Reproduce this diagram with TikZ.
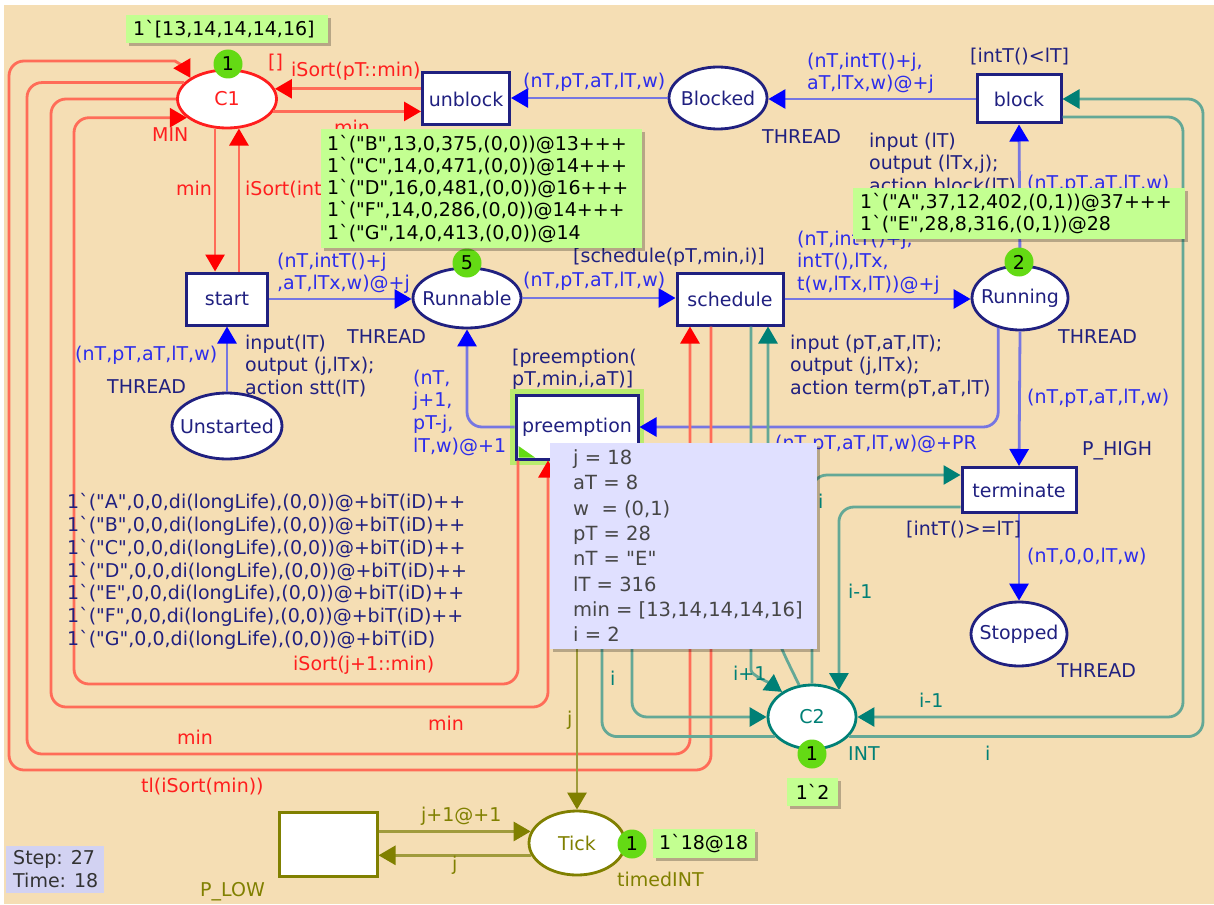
\documentclass[tikz,border=0pt]{standalone}
\usepackage{fontspec}
\newfontfamily\dvs{DejaVu Sans}
\usetikzlibrary{arrows.meta,shapes.geometric,shadows}
\definecolor{bgc}{RGB}{245,222,180}
\definecolor{nv}{RGB}{32,32,128}
\definecolor{bl}{RGB}{118,118,226}
\definecolor{bh}{RGB}{0,0,255}
\definecolor{bt}{RGB}{45,45,235}
\definecolor{rl}{RGB}{255,108,88}
\definecolor{rh}{RGB}{255,0,0}
\definecolor{rt}{RGB}{255,30,30}
\definecolor{tline}{RGB}{100,168,150}
\definecolor{th}{RGB}{0,128,118}
\definecolor{ol}{RGB}{160,155,60}
\definecolor{oh}{RGB}{128,128,0}
\definecolor{tokg}{RGB}{100,218,20}
\definecolor{mkg}{RGB}{195,255,145}
\definecolor{glow}{RGB}{185,235,110}
\definecolor{pop}{RGB}{224,224,255}
\definecolor{popt}{RGB}{70,70,70}
\definecolor{stepc}{RGB}{210,210,242}
\newcommand\pfont{\dvs\fontsize{19}{22.7}\selectfont}
\newcommand\mfont{\dvs\fontsize{19}{22.3}\selectfont}
\newcommand\qfont{\dvs\fontsize{19.5}{25.3}\selectfont}
\begin{document}
\begin{tikzpicture}[x=1pt,y=-1pt,
  every node/.style={inner sep=0pt},
  place/.style={ellipse, draw=nv, fill=white, line width=2.8pt, font=\pfont, text=nv},
  trans/.style={rectangle, draw=nv, fill=white, line width=3pt, font=\pfont, text=nv},
  tok/.style={circle, fill=tokg, minimum size=29pt, font=\pfont},
  mk/.style={fill=mkg, anchor=north west, align=left, font=\mfont,
     drop shadow={shadow xshift=2.5pt, shadow yshift=-2.5pt, fill=black, opacity=0.25}},
  lab/.style={font=\pfont, anchor=west},
  mlab/.style={font=\pfont, anchor=north west, align=left},
  hd/.style={-{Triangle[length=17pt,width=19pt,color=#1]}},
  barc/.style={draw=bl, line width=2.8pt, rounded corners=15pt, hd=bh},
  rarc/.style={draw=rl, line width=2.8pt, rounded corners=15pt, hd=rh},
  tarc/.style={draw=tline, line width=2.8pt, rounded corners=15pt, hd=th},
  oarc/.style={draw=ol, line width=2.8pt, rounded corners=15pt, hd=oh}]
\useasboundingbox (0,0) rectangle (1214,904);
\fill[white] (0,0) rectangle (1214,904);
\fill[bgc] (4,5) rectangle (1214,904);

% places
\node[place, draw=rt, text=rt, minimum width=99pt, minimum height=58pt] (C1) at (227,99) {\makebox[0pt]{C1}};
\node[place, minimum width=98pt, minimum height=62pt] (blocked) at (718,98) {\makebox[0pt]{Blocked}};
\node[place, minimum width=108pt, minimum height=60pt] (runnable) at (467,298) {\makebox[0pt]{Runnable}};
\node[place, minimum width=96pt, minimum height=64pt] (running) at (1020,298) {\makebox[0pt]{Running}};
\node[place, minimum width=110pt, minimum height=66pt] (unstarted) at (227,426) {\makebox[0pt]{Unstarted}};
\node[place, minimum width=96pt, minimum height=64pt] (stopped) at (1019,634) {\makebox[0pt]{Stopped}};
\node[place, draw=th, text=th, minimum width=88pt, minimum height=64pt] (C2) at (812,717) {\makebox[0pt]{C2}};
\node[place, draw=oh, text=oh, minimum width=96pt, minimum height=64pt] (tick) at (577,843) {\makebox[0pt]{Tick}};

% transitions
\node[trans, minimum width=87pt, minimum height=52pt] (unblock) at (466,99) {unblock};
\node[trans, minimum width=84pt, minimum height=48pt] (block) at (1019,99) {block};
\node[trans, minimum width=81pt, minimum height=52pt] (start) at (227,299) {start};
\node[trans, minimum width=106pt, minimum height=52pt] (sched) at (730,299) {schedule};
\node[fill=glow, minimum width=134pt, minimum height=76pt] (pglow) at (577,427) {};
\node[trans, minimum width=122pt, minimum height=64pt] (preempt) at (577,427) {preemption};
\fill[tokg] (518.5,446) -- (518.5,457.5) -- (535,457.5) -- cycle;
\node[trans, minimum width=114pt, minimum height=45pt] (term) at (1019,490) {terminate};
\node[trans, draw=oh, minimum width=98pt, minimum height=64pt] (plow) at (328,844) {};

% blue arcs
\draw[barc] (blocked.west) -- (unblock.east |- blocked.west);
\draw[barc] (block.west) -- (blocked.east |- block.west);
\draw[barc] (running.north) -- (block.south);
\draw[barc] (start.east) -- (runnable.west |- start.east);
\draw[barc] (unstarted.north) -- (start.south);
\draw[barc] (runnable.east) -- (sched.west |- runnable.east);
\draw[barc] (sched.east) -- (running.west |- sched.east);
\draw[barc] (running.234) |- (preempt.east);
\draw[barc] (preempt.west) -| (runnable.south);
\draw[barc] (running.south) -- (term.north);
\draw[barc] (term.south) -- (stopped.north);

% red arcs
\draw[rarc] (unblock.west |- C1.12) -- (C1.12);
\draw[rarc] (C1.-15) -- (unblock.west |- C1.-15);
\draw[rarc] (C1.248) -- (start.north -| C1.248);
\draw[rarc] (start.north -| C1.292) -- (C1.292);
\draw[rarc] ([xshift=-19pt]sched.south) -- (711,770) -- (9,770) -- (9,61) -- (160,61) .. controls (175,61) and (184,67) .. (C1.150);
\draw[rarc] (C1.159) -| (27,754) -- (690,754) -- ([xshift=-40pt]sched.south);
\draw[rarc] (C1.west) -| (51,707) -- (548,707) -- ([xshift=-29pt]preempt.south);
\draw[rarc] ([xshift=-59pt]preempt.south) -- (518,684) -- (74,684) |- (C1.205);

% teal arcs
\draw[tarc] ([yshift=-18pt]block.east) -- (1183,117) |- (C2.east);
\draw[tarc] (C2.-28) -| (1203,99) -- (block.east);
\draw[tarc] ([yshift=-17pt]term.west) -| (C2.45);
\draw[tarc] (C2.north) |- ([yshift=15pt]term.west);
\draw[tarc] ([xshift=21pt]sched.south) -- (751,655) .. controls (751,675) and (768,682) .. (C2.140);
\draw[tarc] (C2.112) -- (782,650) -- (768,615) -- ([xshift=38pt]sched.south);
\draw[tarc] ([xshift=55pt]preempt.south) |- (C2.west);
\draw[tarc] (C2.208) -| ([xshift=25pt]preempt.south);

% olive arcs
\draw[oarc] (preempt.south) -- (tick.north);
\draw[oarc] (plow.east |- tick.166) -- (tick.166);
\draw[oarc] (tick.195) -- (plow.east |- tick.195);

% tokens
\node[tok] (tC1) at (228,64) {1};
\node[tok] (tRn) at (467,263) {5};
\node[tok] (tRu) at (1019,262) {2};
\node[tok] (tC2) at (812,754) {1};
\node[tok] (tTk) at (632,844) {1};

% navy inscriptions
\node[lab,text=nv] (thB) at (762,137) {THREAD};
\node[lab,text=nv] (thR) at (347,337) {THREAD};
\node[lab,text=nv] (thRu) at (1058,337) {THREAD};
\node[lab,text=nv] (thU) at (107,387) {THREAD};
\node[lab,text=nv] (thS) at (1057,671) {THREAD};
\node[lab,text=nv] (gB) at (970,57) {[intT()<lT]};
\node[mlab,text=nv] (cB) at (869,132.5) {input (lT)\\output (lTx,j);\\action block(lT)};
\node[lab,text=nv] (gS) at (573,257) {[schedule(pT,min,i)]};
\node[mlab,text=nv] (cSt) at (245,334.5) {input(lT)\\output (j,lTx);\\action stt(lT)};
\node[mlab,text=nv] (cSc) at (790,334.5) {input (pT,aT,lT);\\output (j,lTx);\\action term(pT,aT,lT)};
\node[mlab,text=nv] (gP) at (512,348.5) {[preemption(\\pT,min,i,aT)]};
\node[lab,text=nv] (ph) at (1082,451) {P\_HIGH};
\node[lab,text=nv] (gT) at (906,530) {[intT()>=lT]};
\node[mlab,text=nv] (mU) at (67,493.5) {1`("A",0,0,di(longLife),(0,0))@+biT(iD)++\\1`("B",0,0,di(longLife),(0,0))@+biT(iD)++\\1`("C",0,0,di(longLife),(0,0))@+biT(iD)++\\1`("D",0,0,di(longLife),(0,0))@+biT(iD)++\\1`("E",0,0,di(longLife),(0,0))@+biT(iD)++\\1`("F",0,0,di(longLife),(0,0))@+biT(iD)++\\1`("G",0,0,di(longLife),(0,0))@+biT(iD)};

% blue arc inscriptions
\node[lab,text=bt] (a1) at (523,82) {(nT,pT,aT,lT,w)};
\node[mlab,text=bt] (a2) at (807,52.5) {(nT,intT()+j,\\aT,lTx,w)@+j};
\node[lab,text=bt] (a3) at (1027,184) {(nT,pT,aT,lT,w)};
\node[mlab,text=bt] (a4) at (277,252.5) {(nT,intT()+j\\,aT,lTx,w)@+j};
\node[lab,text=bt] (a5) at (75,355) {(nT,pT,aT,lT,w)};
\node[lab,text=bt] (a6) at (523,281) {(nT,pT,aT,lT,w)};
\node[mlab,text=bt] (a7) at (797,230.5) {(nT,intT()+j,\\intT(),lTx,\\t(w,lTx,lT))@+j};
\node[lab,text=bt] (a8) at (775,444) {(nT,pT,aT,lT,w)@+PR};
\node[mlab,text=bt] (a9) at (413,369.5) {(nT,\\j+1,\\pT-j,\\lT,w)@+1};
\node[lab,text=bt] (a10) at (1027,398) {(nT,pT,aT,lT,w)};
\node[lab,text=bt] (a11) at (1027,557) {(nT,0,0,lT,w)};

% red inscriptions
\node[lab,text=rt] (r0) at (268,63) {[]};
\node[lab,text=rt] (r1) at (291,71) {iSort(pT::min)};
\node[lab,text=rt] (r2) at (334,127) {min};
\node[lab,text=rt] (r3) at (152,135) {MIN};
\node[lab,text=rt] (r4) at (176,188) {min};
\node[lab,text=rt] (r5) at (245,190) {iSort(int};
\node[lab,text=rt] (r6) at (293,665) {iSort(j+1::min)};
\node[lab,text=rt] (r7) at (428,723) {min};
\node[lab,text=rt] (r8) at (177,737) {min};
\node[lab,text=rt] (r9) at (141,787) {tl(iSort(min))};

% teal inscriptions
\node[lab,text=th] (t1) at (733,673) {i+1};
\node[lab,text=th] (t2) at (610,678) {i};
\node[lab,text=th] (t3) at (818,501) {i};
\node[lab,text=th] (t4) at (848,591) {i-1};
\node[lab,text=th] (t5) at (919,700) {i-1};
\node[lab,text=th] (t6) at (848,754) {INT};
\node[lab,text=th] (t7) at (985,753) {i};

% olive inscriptions
\node[lab,text=oh] (o1) at (567,720) {j};
\node[lab,text=oh] (o2) at (421,816) {j+1@+1};
\node[lab,text=oh] (o3) at (452,865) {j};
\node[lab,text=oh] (o4) at (200,892) {P\_LOW};
\node[lab,text=oh] (o5) at (617,879) {timedINT};

% markings
\node[mk, minimum width=202pt, minimum height=28pt, text width=188pt] (mC1) at (126,15) {1`[13,14,14,14,16]};
\node[mk, minimum width=321pt, minimum height=119pt, text width=309pt] (mRn) at (321,129) {1`("B",13,0,375,(0,0))@13+++\\1`("C",14,0,471,(0,0))@14+++\\1`("D",16,0,481,(0,0))@16+++\\1`("F",14,0,286,(0,0))@14+++\\1`("G",14,0,413,(0,0))@14};
\node[mk, minimum width=332pt, minimum height=51pt, text width=318pt] (mRu) at (853,188) {1`("A",37,12,402,(0,1))@37+++\\1`("E",28,8,316,(0,1))@28};
\node[mk, minimum width=51pt, minimum height=28pt, text width=40pt, align=center] (mC2) at (787,778) {1`2};
\node[mk, minimum width=102pt, minimum height=29pt, text width=90pt] (mTk) at (653,829) {1`18@18};

% binding popup
\node[fill=pop, anchor=north west, minimum width=267pt, minimum height=206pt,
  drop shadow={shadow xshift=3pt, shadow yshift=-3pt, fill=black, opacity=0.25}] (popup) at (550,443) {};
\node[anchor=north west, font=\qfont, text=popt, align=left] (poptext) at (573,449.5) {j = 18\\aT = 8\\w\ \ = (0,1)\\pT = 28\\nT = "E"\\lT = 316\\min = [13,14,14,14,16]\\i = 2};

% step box
\node[fill=stepc, anchor=north west, minimum width=98pt, minimum height=47pt] (stepbox) at (6,846) {};
\node[anchor=north west, font=\pfont, text=black!80, align=left] (steptext) at (13,850.5) {Step: 27\\Time: 18};
\end{tikzpicture}
\end{document}
